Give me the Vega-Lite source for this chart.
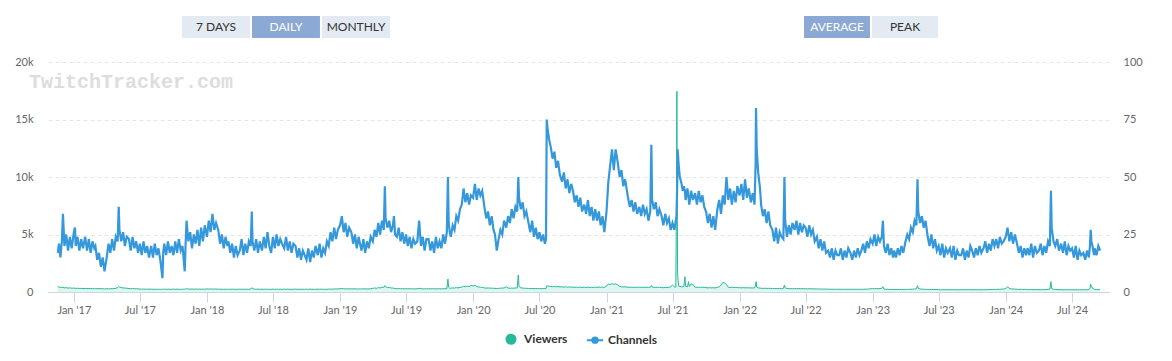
{
"$schema":"https://vega.github.io/schema/vega-lite/v6.json",
"width":1062,"height":230,
"autosize":{"type":"none"},
"padding":{"left":48,"top":62,"right":62,"bottom":69},
"background":"white",
"config":{"view":{"stroke":null},"font":"Lato"},
"datasets":{
"wm":[{"label":"TwitchTracker.com","row":"w"}],
"btn1":[{"label":"7 DAYS","sel":false,"row":"b"},{"label":"DAILY","sel":true,"row":"b"},{"label":"MONTHLY","sel":false,"row":"b"}],
"btn2":[{"label":"AVERAGE","sel":true,"row":"b"},{"label":"PEAK","sel":false,"row":"b"}],
"series":[
{"t":"2016-11-18","c":17,"v":480},{"t":"2016-11-21","c":21,"v":430},{"t":"2016-11-25","c":15,"v":390},{"t":"2016-11-29","c":22,"v":400},
{"t":"2016-12-02","c":34,"v":420},{"t":"2016-12-06","c":20,"v":360},{"t":"2016-12-11","c":25,"v":380},{"t":"2016-12-16","c":18,"v":340},{"t":"2016-12-21","c":24,"v":360},{"t":"2016-12-26","c":19,"v":330},
{"t":"2017-01-01","c":26,"v":340},{"t":"2017-01-04","c":28,"v":330},{"t":"2017-01-06","c":20,"v":310},{"t":"2017-01-11","c":24,"v":330},{"t":"2017-01-16","c":18,"v":300},{"t":"2017-01-21","c":23,"v":320},{"t":"2017-01-26","c":19,"v":300},
{"t":"2017-02-01","c":24,"v":310},{"t":"2017-02-06","c":18,"v":290},{"t":"2017-02-11","c":23,"v":310},{"t":"2017-02-16","c":17,"v":290},{"t":"2017-02-21","c":22,"v":300},{"t":"2017-02-26","c":19,"v":280},
{"t":"2017-03-01","c":20,"v":300},{"t":"2017-03-06","c":14,"v":280},{"t":"2017-03-11","c":17,"v":300},{"t":"2017-03-16","c":11,"v":280},{"t":"2017-03-21","c":15,"v":290},{"t":"2017-03-26","c":9,"v":270},
{"t":"2017-04-01","c":15,"v":290},{"t":"2017-04-06","c":21,"v":270},{"t":"2017-04-11","c":17,"v":290},{"t":"2017-04-16","c":23,"v":280},{"t":"2017-04-21","c":18,"v":300},{"t":"2017-04-26","c":24,"v":320},
{"t":"2017-05-01","c":22,"v":380},{"t":"2017-05-04","c":37,"v":480},{"t":"2017-05-06","c":27,"v":420},{"t":"2017-05-11","c":22,"v":380},{"t":"2017-05-16","c":26,"v":360},{"t":"2017-05-21","c":20,"v":340},{"t":"2017-05-26","c":24,"v":330},
{"t":"2017-06-01","c":23,"v":300},{"t":"2017-06-06","c":18,"v":280},{"t":"2017-06-11","c":24,"v":300},{"t":"2017-06-16","c":19,"v":280},{"t":"2017-06-21","c":22,"v":290},{"t":"2017-06-26","c":17,"v":270},
{"t":"2017-07-01","c":21,"v":260},{"t":"2017-07-06","c":16,"v":240},{"t":"2017-07-11","c":22,"v":260},{"t":"2017-07-16","c":17,"v":240},{"t":"2017-07-21","c":20,"v":250},{"t":"2017-07-26","c":15,"v":240},
{"t":"2017-08-01","c":20,"v":250},{"t":"2017-08-06","c":15,"v":230},{"t":"2017-08-11","c":21,"v":250},{"t":"2017-08-16","c":16,"v":230},{"t":"2017-08-21","c":19,"v":240},{"t":"2017-08-26","c":14,"v":230},
{"t":"2017-09-01","c":6,"v":240},{"t":"2017-09-03","c":17,"v":240},{"t":"2017-09-06","c":21,"v":250},{"t":"2017-09-11","c":16,"v":230},{"t":"2017-09-16","c":22,"v":250},{"t":"2017-09-21","c":17,"v":230},{"t":"2017-09-26","c":20,"v":240},
{"t":"2017-10-01","c":16,"v":250},{"t":"2017-10-06","c":22,"v":230},{"t":"2017-10-11","c":17,"v":250},{"t":"2017-10-16","c":23,"v":230},{"t":"2017-10-21","c":18,"v":240},{"t":"2017-10-26","c":20,"v":230},
{"t":"2017-11-01","c":9,"v":260},{"t":"2017-11-03","c":19,"v":250},{"t":"2017-11-06","c":31,"v":280},{"t":"2017-11-11","c":22,"v":260},{"t":"2017-11-16","c":26,"v":250},{"t":"2017-11-21","c":19,"v":260},{"t":"2017-11-26","c":25,"v":240},
{"t":"2017-12-01","c":21,"v":260},{"t":"2017-12-06","c":27,"v":240},{"t":"2017-12-11","c":20,"v":260},{"t":"2017-12-16","c":28,"v":240},{"t":"2017-12-21","c":22,"v":250},{"t":"2017-12-26","c":29,"v":240},
{"t":"2018-01-01","c":24,"v":270},{"t":"2018-01-06","c":31,"v":250},{"t":"2018-01-11","c":26,"v":270},{"t":"2018-01-16","c":34,"v":250},{"t":"2018-01-21","c":27,"v":260},{"t":"2018-01-26","c":30,"v":250},
{"t":"2018-02-01","c":27,"v":250},{"t":"2018-02-06","c":21,"v":230},{"t":"2018-02-11","c":25,"v":250},{"t":"2018-02-16","c":19,"v":230},{"t":"2018-02-21","c":24,"v":240},{"t":"2018-02-26","c":20,"v":230},
{"t":"2018-03-01","c":22,"v":250},{"t":"2018-03-06","c":17,"v":230},{"t":"2018-03-11","c":21,"v":250},{"t":"2018-03-16","c":15,"v":230},{"t":"2018-03-21","c":20,"v":240},{"t":"2018-03-26","c":16,"v":230},
{"t":"2018-04-01","c":18,"v":250},{"t":"2018-04-06","c":23,"v":230},{"t":"2018-04-11","c":16,"v":250},{"t":"2018-04-16","c":21,"v":230},{"t":"2018-04-21","c":17,"v":240},{"t":"2018-04-26","c":22,"v":230},
{"t":"2018-05-01","c":20,"v":260},{"t":"2018-05-04","c":35,"v":380},{"t":"2018-05-06","c":22,"v":280},{"t":"2018-05-11","c":18,"v":250},{"t":"2018-05-16","c":23,"v":240},{"t":"2018-05-21","c":17,"v":250},{"t":"2018-05-26","c":22,"v":230},
{"t":"2018-06-01","c":18,"v":250},{"t":"2018-06-06","c":24,"v":230},{"t":"2018-06-11","c":19,"v":250},{"t":"2018-06-16","c":26,"v":230},{"t":"2018-06-21","c":20,"v":240},{"t":"2018-06-26","c":17,"v":230},
{"t":"2018-07-01","c":24,"v":250},{"t":"2018-07-06","c":19,"v":230},{"t":"2018-07-11","c":25,"v":250},{"t":"2018-07-16","c":20,"v":230},{"t":"2018-07-21","c":23,"v":240},{"t":"2018-07-26","c":21,"v":230},
{"t":"2018-08-01","c":19,"v":250},{"t":"2018-08-06","c":24,"v":230},{"t":"2018-08-11","c":18,"v":250},{"t":"2018-08-16","c":22,"v":230},{"t":"2018-08-21","c":17,"v":240},{"t":"2018-08-26","c":21,"v":230},
{"t":"2018-09-01","c":20,"v":250},{"t":"2018-09-06","c":15,"v":230},{"t":"2018-09-11","c":19,"v":250},{"t":"2018-09-16","c":14,"v":230},{"t":"2018-09-21","c":18,"v":240},{"t":"2018-09-26","c":16,"v":230},
{"t":"2018-10-01","c":14,"v":250},{"t":"2018-10-06","c":19,"v":230},{"t":"2018-10-11","c":13,"v":250},{"t":"2018-10-16","c":18,"v":230},{"t":"2018-10-21","c":15,"v":240},{"t":"2018-10-26","c":20,"v":230},
{"t":"2018-11-01","c":16,"v":250},{"t":"2018-11-06","c":21,"v":230},{"t":"2018-11-11","c":15,"v":250},{"t":"2018-11-16","c":19,"v":230},{"t":"2018-11-21","c":17,"v":240},{"t":"2018-11-26","c":22,"v":230},
{"t":"2018-12-01","c":20,"v":260},{"t":"2018-12-06","c":26,"v":240},{"t":"2018-12-11","c":22,"v":260},{"t":"2018-12-16","c":28,"v":250},{"t":"2018-12-21","c":23,"v":270},{"t":"2018-12-26","c":27,"v":260},
{"t":"2019-01-01","c":29,"v":280},{"t":"2019-01-06","c":33,"v":300},{"t":"2019-01-11","c":26,"v":280},{"t":"2019-01-16","c":30,"v":270},{"t":"2019-01-21","c":24,"v":280},{"t":"2019-01-26","c":28,"v":260},
{"t":"2019-02-01","c":26,"v":280},{"t":"2019-02-06","c":21,"v":260},{"t":"2019-02-11","c":25,"v":280},{"t":"2019-02-16","c":19,"v":260},{"t":"2019-02-21","c":24,"v":270},{"t":"2019-02-26","c":20,"v":260},
{"t":"2019-03-01","c":18,"v":280},{"t":"2019-03-06","c":23,"v":260},{"t":"2019-03-11","c":17,"v":280},{"t":"2019-03-16","c":22,"v":260},{"t":"2019-03-21","c":19,"v":270},{"t":"2019-03-26","c":24,"v":280},
{"t":"2019-04-01","c":22,"v":320},{"t":"2019-04-06","c":27,"v":350},{"t":"2019-04-11","c":24,"v":320},{"t":"2019-04-16","c":30,"v":380},{"t":"2019-04-21","c":25,"v":350},{"t":"2019-04-26","c":31,"v":420},
{"t":"2019-05-01","c":27,"v":400},{"t":"2019-05-04","c":46,"v":560},{"t":"2019-05-06","c":32,"v":450},{"t":"2019-05-11","c":28,"v":380},{"t":"2019-05-16","c":31,"v":400},{"t":"2019-05-21","c":26,"v":350},{"t":"2019-05-26","c":29,"v":340},{"t":"2019-05-29","c":33,"v":330},
{"t":"2019-06-01","c":25,"v":300},{"t":"2019-06-06","c":24,"v":280},{"t":"2019-06-11","c":28,"v":300},{"t":"2019-06-16","c":22,"v":280},{"t":"2019-06-21","c":26,"v":290},{"t":"2019-06-26","c":21,"v":270},
{"t":"2019-07-01","c":25,"v":290},{"t":"2019-07-06","c":20,"v":270},{"t":"2019-07-11","c":24,"v":290},{"t":"2019-07-16","c":19,"v":270},{"t":"2019-07-21","c":23,"v":280},{"t":"2019-07-26","c":21,"v":270},
{"t":"2019-08-01","c":22,"v":290},{"t":"2019-08-06","c":31,"v":320},{"t":"2019-08-11","c":20,"v":290},{"t":"2019-08-16","c":24,"v":270},{"t":"2019-08-21","c":18,"v":280},{"t":"2019-08-26","c":23,"v":270},
{"t":"2019-09-01","c":23,"v":290},{"t":"2019-09-06","c":18,"v":270},{"t":"2019-09-11","c":22,"v":290},{"t":"2019-09-16","c":17,"v":270},{"t":"2019-09-21","c":24,"v":280},{"t":"2019-09-26","c":19,"v":270},
{"t":"2019-10-01","c":22,"v":290},{"t":"2019-10-06","c":19,"v":270},{"t":"2019-10-11","c":25,"v":290},{"t":"2019-10-16","c":21,"v":280},{"t":"2019-10-21","c":26,"v":300},{"t":"2019-10-24","c":50,"v":1130},{"t":"2019-10-26","c":30,"v":420},{"t":"2019-10-29","c":26,"v":330},
{"t":"2019-11-01","c":24,"v":330},{"t":"2019-11-06","c":29,"v":360},{"t":"2019-11-11","c":27,"v":340},{"t":"2019-11-16","c":33,"v":380},{"t":"2019-11-21","c":31,"v":360},{"t":"2019-11-26","c":36,"v":400},
{"t":"2019-12-01","c":38,"v":420},{"t":"2019-12-06","c":45,"v":500},{"t":"2019-12-11","c":39,"v":450},{"t":"2019-12-16","c":43,"v":520},{"t":"2019-12-21","c":38,"v":480},{"t":"2019-12-26","c":42,"v":560},
{"t":"2020-01-01","c":41,"v":520},{"t":"2020-01-06","c":47,"v":600},{"t":"2020-01-11","c":40,"v":480},{"t":"2020-01-16","c":45,"v":440},{"t":"2020-01-21","c":42,"v":420},{"t":"2020-01-26","c":44,"v":400},
{"t":"2020-02-01","c":37,"v":360},{"t":"2020-02-06","c":32,"v":330},{"t":"2020-02-11","c":35,"v":360},{"t":"2020-02-16","c":29,"v":330},{"t":"2020-02-21","c":33,"v":340},{"t":"2020-02-26","c":27,"v":320},
{"t":"2020-03-01","c":25,"v":320},{"t":"2020-03-06","c":18,"v":300},{"t":"2020-03-11","c":23,"v":320},{"t":"2020-03-16","c":27,"v":330},{"t":"2020-03-21","c":25,"v":340},{"t":"2020-03-26","c":31,"v":350},
{"t":"2020-04-01","c":28,"v":460},{"t":"2020-04-06","c":33,"v":340},{"t":"2020-04-11","c":30,"v":330},{"t":"2020-04-16","c":36,"v":340},{"t":"2020-04-21","c":32,"v":330},{"t":"2020-04-26","c":37,"v":350},
{"t":"2020-05-01","c":35,"v":360},{"t":"2020-05-04","c":50,"v":1480},{"t":"2020-05-06","c":41,"v":500},{"t":"2020-05-11","c":36,"v":360},{"t":"2020-05-16","c":39,"v":340},{"t":"2020-05-21","c":33,"v":330},{"t":"2020-05-26","c":35,"v":320},
{"t":"2020-06-01","c":30,"v":310},{"t":"2020-06-06","c":26,"v":300},{"t":"2020-06-11","c":31,"v":310},{"t":"2020-06-16","c":24,"v":290},{"t":"2020-06-21","c":28,"v":300},{"t":"2020-06-26","c":23,"v":290},
{"t":"2020-07-01","c":26,"v":300},{"t":"2020-07-06","c":22,"v":290},{"t":"2020-07-11","c":25,"v":300},{"t":"2020-07-16","c":21,"v":290},{"t":"2020-07-19","c":23,"v":300},{"t":"2020-07-21","c":75,"v":540},{"t":"2020-07-24","c":70,"v":520},{"t":"2020-07-28","c":66,"v":500},
{"t":"2020-08-01","c":63,"v":480},{"t":"2020-08-06","c":58,"v":460},{"t":"2020-08-11","c":61,"v":480},{"t":"2020-08-16","c":54,"v":460},{"t":"2020-08-21","c":57,"v":470},{"t":"2020-08-26","c":51,"v":450},
{"t":"2020-09-01","c":48,"v":450},{"t":"2020-09-06","c":52,"v":420},{"t":"2020-09-11","c":45,"v":450},{"t":"2020-09-16","c":49,"v":420},{"t":"2020-09-21","c":43,"v":440},{"t":"2020-09-26","c":47,"v":420},
{"t":"2020-10-01","c":44,"v":430},{"t":"2020-10-06","c":39,"v":400},{"t":"2020-10-11","c":42,"v":430},{"t":"2020-10-16","c":37,"v":400},{"t":"2020-10-21","c":41,"v":420},{"t":"2020-10-26","c":35,"v":400},
{"t":"2020-11-01","c":38,"v":420},{"t":"2020-11-06","c":34,"v":390},{"t":"2020-11-11","c":40,"v":420},{"t":"2020-11-16","c":33,"v":390},{"t":"2020-11-21","c":37,"v":410},{"t":"2020-11-26","c":31,"v":390},
{"t":"2020-12-01","c":36,"v":430},{"t":"2020-12-06","c":31,"v":400},{"t":"2020-12-11","c":35,"v":430},{"t":"2020-12-16","c":29,"v":400},{"t":"2020-12-21","c":33,"v":420},{"t":"2020-12-26","c":26,"v":400},
{"t":"2021-01-01","c":35,"v":520},{"t":"2021-01-06","c":48,"v":700},{"t":"2021-01-11","c":55,"v":650},{"t":"2021-01-16","c":62,"v":720},{"t":"2021-01-21","c":53,"v":680},{"t":"2021-01-26","c":62,"v":700},
{"t":"2021-02-01","c":56,"v":620},{"t":"2021-02-06","c":50,"v":480},{"t":"2021-02-11","c":53,"v":460},{"t":"2021-02-16","c":46,"v":440},{"t":"2021-02-21","c":49,"v":450},{"t":"2021-02-26","c":44,"v":430},
{"t":"2021-03-01","c":41,"v":420},{"t":"2021-03-06","c":37,"v":400},{"t":"2021-03-11","c":40,"v":420},{"t":"2021-03-16","c":35,"v":400},{"t":"2021-03-21","c":39,"v":410},{"t":"2021-03-26","c":34,"v":400},
{"t":"2021-04-01","c":37,"v":420},{"t":"2021-04-06","c":33,"v":400},{"t":"2021-04-11","c":38,"v":420},{"t":"2021-04-16","c":34,"v":400},{"t":"2021-04-21","c":36,"v":410},{"t":"2021-04-26","c":31,"v":400},
{"t":"2021-05-01","c":35,"v":420},{"t":"2021-05-04","c":64,"v":560},{"t":"2021-05-06","c":40,"v":440},{"t":"2021-05-11","c":36,"v":410},{"t":"2021-05-16","c":39,"v":400},{"t":"2021-05-21","c":33,"v":410},{"t":"2021-05-26","c":36,"v":400},
{"t":"2021-06-01","c":33,"v":400},{"t":"2021-06-06","c":29,"v":380},{"t":"2021-06-11","c":34,"v":400},{"t":"2021-06-16","c":30,"v":380},{"t":"2021-06-21","c":32,"v":420},{"t":"2021-06-26","c":27,"v":450},
{"t":"2021-07-01","c":30,"v":600},{"t":"2021-07-06","c":27,"v":450},{"t":"2021-07-10","c":31,"v":420},{"t":"2021-07-12","c":33,"v":8500},{"t":"2021-07-13","c":40,"v":17450},{"t":"2021-07-14","c":48,"v":8200},{"t":"2021-07-15","c":62,"v":1500},{"t":"2021-07-18","c":55,"v":500},{"t":"2021-07-21","c":50,"v":480},{"t":"2021-07-26","c":47,"v":460},{"t":"2021-07-29","c":44,"v":450},
{"t":"2021-08-01","c":46,"v":480},{"t":"2021-08-04","c":44,"v":1330},{"t":"2021-08-06","c":40,"v":500},{"t":"2021-08-11","c":45,"v":460},{"t":"2021-08-14","c":41,"v":900},{"t":"2021-08-16","c":38,"v":480},{"t":"2021-08-21","c":44,"v":700},{"t":"2021-08-26","c":40,"v":650},
{"t":"2021-09-01","c":43,"v":420},{"t":"2021-09-06","c":38,"v":400},{"t":"2021-09-11","c":44,"v":420},{"t":"2021-09-16","c":39,"v":400},{"t":"2021-09-21","c":42,"v":410},{"t":"2021-09-26","c":37,"v":400},
{"t":"2021-10-01","c":35,"v":380},{"t":"2021-10-06","c":30,"v":360},{"t":"2021-10-11","c":34,"v":380},{"t":"2021-10-16","c":28,"v":360},{"t":"2021-10-21","c":33,"v":370},{"t":"2021-10-26","c":27,"v":360},
{"t":"2021-11-01","c":36,"v":400},{"t":"2021-11-06","c":40,"v":450},{"t":"2021-11-11","c":34,"v":600},{"t":"2021-11-16","c":42,"v":830},{"t":"2021-11-21","c":38,"v":780},{"t":"2021-11-26","c":50,"v":650},
{"t":"2021-12-01","c":40,"v":420},{"t":"2021-12-06","c":45,"v":380},{"t":"2021-12-11","c":38,"v":420},{"t":"2021-12-16","c":44,"v":380},{"t":"2021-12-21","c":39,"v":400},{"t":"2021-12-26","c":46,"v":380},
{"t":"2022-01-01","c":42,"v":380},{"t":"2022-01-06","c":47,"v":360},{"t":"2022-01-11","c":40,"v":380},{"t":"2022-01-16","c":49,"v":360},{"t":"2022-01-21","c":41,"v":370},{"t":"2022-01-26","c":45,"v":360},
{"t":"2022-02-01","c":39,"v":360},{"t":"2022-02-06","c":43,"v":350},{"t":"2022-02-11","c":38,"v":360},{"t":"2022-02-14","c":56,"v":600},{"t":"2022-02-15","c":80,"v":900},{"t":"2022-02-17","c":62,"v":420},{"t":"2022-02-21","c":52,"v":360},{"t":"2022-02-26","c":45,"v":340},
{"t":"2022-03-01","c":38,"v":330},{"t":"2022-03-06","c":33,"v":310},{"t":"2022-03-11","c":36,"v":330},{"t":"2022-03-16","c":30,"v":310},{"t":"2022-03-21","c":35,"v":320},{"t":"2022-03-26","c":29,"v":310},
{"t":"2022-04-01","c":27,"v":310},{"t":"2022-04-06","c":22,"v":290},{"t":"2022-04-11","c":28,"v":310},{"t":"2022-04-16","c":21,"v":290},{"t":"2022-04-21","c":26,"v":300},{"t":"2022-04-26","c":24,"v":290},
{"t":"2022-05-01","c":23,"v":310},{"t":"2022-05-04","c":50,"v":600},{"t":"2022-05-06","c":31,"v":360},{"t":"2022-05-11","c":24,"v":300},{"t":"2022-05-16","c":29,"v":290},{"t":"2022-05-21","c":25,"v":300},{"t":"2022-05-26","c":30,"v":280},
{"t":"2022-06-01","c":27,"v":300},{"t":"2022-06-06","c":31,"v":280},{"t":"2022-06-11","c":25,"v":300},{"t":"2022-06-16","c":30,"v":280},{"t":"2022-06-21","c":26,"v":290},{"t":"2022-06-26","c":29,"v":280},
{"t":"2022-07-01","c":28,"v":290},{"t":"2022-07-06","c":24,"v":270},{"t":"2022-07-11","c":29,"v":290},{"t":"2022-07-16","c":25,"v":270},{"t":"2022-07-21","c":27,"v":280},{"t":"2022-07-26","c":22,"v":270},
{"t":"2022-08-01","c":24,"v":270},{"t":"2022-08-06","c":19,"v":250},{"t":"2022-08-11","c":23,"v":270},{"t":"2022-08-16","c":18,"v":250},{"t":"2022-08-21","c":22,"v":260},{"t":"2022-08-26","c":17,"v":250},
{"t":"2022-09-01","c":18,"v":250},{"t":"2022-09-06","c":15,"v":230},{"t":"2022-09-11","c":19,"v":250},{"t":"2022-09-16","c":14,"v":230},{"t":"2022-09-21","c":18,"v":240},{"t":"2022-09-26","c":16,"v":230},
{"t":"2022-10-01","c":16,"v":240},{"t":"2022-10-06","c":19,"v":230},{"t":"2022-10-11","c":14,"v":240},{"t":"2022-10-16","c":18,"v":230},{"t":"2022-10-21","c":15,"v":240},{"t":"2022-10-26","c":19,"v":230},
{"t":"2022-11-01","c":17,"v":240},{"t":"2022-11-06","c":14,"v":230},{"t":"2022-11-11","c":18,"v":240},{"t":"2022-11-16","c":15,"v":230},{"t":"2022-11-21","c":19,"v":240},{"t":"2022-11-26","c":16,"v":230},
{"t":"2022-12-01","c":18,"v":240},{"t":"2022-12-06","c":21,"v":230},{"t":"2022-12-11","c":17,"v":240},{"t":"2022-12-16","c":22,"v":250},{"t":"2022-12-21","c":19,"v":260},{"t":"2022-12-26","c":23,"v":280},
{"t":"2023-01-01","c":21,"v":300},{"t":"2023-01-06","c":25,"v":280},{"t":"2023-01-11","c":20,"v":300},{"t":"2023-01-16","c":24,"v":280},{"t":"2023-01-21","c":22,"v":300},{"t":"2023-01-26","c":24,"v":320},{"t":"2023-01-29","c":31,"v":460},
{"t":"2023-02-01","c":20,"v":250},{"t":"2023-02-06","c":17,"v":230},{"t":"2023-02-11","c":21,"v":240},{"t":"2023-02-16","c":16,"v":220},{"t":"2023-02-21","c":19,"v":230},{"t":"2023-02-26","c":15,"v":220},
{"t":"2023-03-01","c":18,"v":230},{"t":"2023-03-06","c":15,"v":210},{"t":"2023-03-11","c":19,"v":230},{"t":"2023-03-16","c":16,"v":210},{"t":"2023-03-21","c":20,"v":220},{"t":"2023-03-26","c":17,"v":210},
{"t":"2023-04-01","c":22,"v":230},{"t":"2023-04-06","c":25,"v":220},{"t":"2023-04-11","c":23,"v":240},{"t":"2023-04-16","c":28,"v":230},{"t":"2023-04-21","c":26,"v":250},{"t":"2023-04-26","c":31,"v":260},
{"t":"2023-05-01","c":29,"v":280},{"t":"2023-05-04","c":49,"v":550},{"t":"2023-05-06","c":35,"v":320},{"t":"2023-05-11","c":30,"v":260},{"t":"2023-05-16","c":33,"v":250},{"t":"2023-05-21","c":28,"v":240},{"t":"2023-05-26","c":31,"v":230},
{"t":"2023-06-01","c":24,"v":230},{"t":"2023-06-06","c":20,"v":210},{"t":"2023-06-11","c":25,"v":230},{"t":"2023-06-16","c":19,"v":210},{"t":"2023-06-21","c":23,"v":220},{"t":"2023-06-26","c":18,"v":210},
{"t":"2023-07-01","c":20,"v":210},{"t":"2023-07-06","c":16,"v":190},{"t":"2023-07-11","c":21,"v":210},{"t":"2023-07-16","c":15,"v":190},{"t":"2023-07-21","c":19,"v":200},{"t":"2023-07-26","c":17,"v":190},
{"t":"2023-08-01","c":19,"v":210},{"t":"2023-08-06","c":15,"v":190},{"t":"2023-08-11","c":20,"v":210},{"t":"2023-08-16","c":14,"v":190},{"t":"2023-08-21","c":18,"v":200},{"t":"2023-08-26","c":16,"v":190},
{"t":"2023-09-01","c":16,"v":210},{"t":"2023-09-06","c":19,"v":190},{"t":"2023-09-11","c":14,"v":210},{"t":"2023-09-16","c":18,"v":190},{"t":"2023-09-21","c":15,"v":200},{"t":"2023-09-26","c":20,"v":190},
{"t":"2023-10-01","c":18,"v":210},{"t":"2023-10-06","c":15,"v":190},{"t":"2023-10-11","c":19,"v":210},{"t":"2023-10-16","c":16,"v":190},{"t":"2023-10-21","c":20,"v":200},{"t":"2023-10-26","c":17,"v":190},
{"t":"2023-11-01","c":19,"v":210},{"t":"2023-11-06","c":22,"v":200},{"t":"2023-11-11","c":17,"v":210},{"t":"2023-11-16","c":21,"v":200},{"t":"2023-11-21","c":18,"v":220},{"t":"2023-11-26","c":23,"v":210},
{"t":"2023-12-01","c":20,"v":230},{"t":"2023-12-06","c":23,"v":220},{"t":"2023-12-11","c":19,"v":240},{"t":"2023-12-16","c":24,"v":230},{"t":"2023-12-21","c":21,"v":250},{"t":"2023-12-26","c":22,"v":260},
{"t":"2024-01-01","c":24,"v":300},{"t":"2024-01-06","c":28,"v":460},{"t":"2024-01-11","c":22,"v":300},{"t":"2024-01-16","c":26,"v":270},{"t":"2024-01-21","c":21,"v":260},{"t":"2024-01-26","c":25,"v":250},
{"t":"2024-02-01","c":21,"v":240},{"t":"2024-02-06","c":17,"v":220},{"t":"2024-02-11","c":20,"v":240},{"t":"2024-02-16","c":15,"v":220},{"t":"2024-02-21","c":19,"v":230},{"t":"2024-02-26","c":16,"v":220},
{"t":"2024-03-01","c":19,"v":220},{"t":"2024-03-06","c":16,"v":200},{"t":"2024-03-11","c":21,"v":220},{"t":"2024-03-16","c":15,"v":200},{"t":"2024-03-21","c":20,"v":210},{"t":"2024-03-26","c":17,"v":200},
{"t":"2024-04-01","c":18,"v":210},{"t":"2024-04-06","c":21,"v":200},{"t":"2024-04-11","c":16,"v":210},{"t":"2024-04-16","c":20,"v":200},{"t":"2024-04-21","c":17,"v":220},{"t":"2024-04-26","c":22,"v":230},
{"t":"2024-05-01","c":20,"v":260},{"t":"2024-05-04","c":44,"v":900},{"t":"2024-05-06","c":28,"v":320},{"t":"2024-05-11","c":22,"v":240},{"t":"2024-05-16","c":20,"v":220},{"t":"2024-05-21","c":23,"v":210},{"t":"2024-05-26","c":18,"v":200},
{"t":"2024-06-01","c":21,"v":210},{"t":"2024-06-06","c":17,"v":190},{"t":"2024-06-11","c":22,"v":210},{"t":"2024-06-16","c":16,"v":190},{"t":"2024-06-21","c":20,"v":200},{"t":"2024-06-26","c":18,"v":190},
{"t":"2024-07-01","c":19,"v":200},{"t":"2024-07-06","c":15,"v":190},{"t":"2024-07-11","c":20,"v":200},{"t":"2024-07-16","c":14,"v":190},{"t":"2024-07-21","c":18,"v":200},{"t":"2024-07-26","c":16,"v":190},
{"t":"2024-08-01","c":17,"v":200},{"t":"2024-08-06","c":14,"v":190},{"t":"2024-08-11","c":18,"v":200},{"t":"2024-08-16","c":15,"v":210},{"t":"2024-08-19","c":20,"v":300},{"t":"2024-08-21","c":27,"v":670},{"t":"2024-08-23","c":22,"v":500},{"t":"2024-08-26","c":20,"v":320},{"t":"2024-08-30","c":16,"v":250},
{"t":"2024-09-01","c":19,"v":230},{"t":"2024-09-06","c":16,"v":210},{"t":"2024-09-11","c":20,"v":220},{"t":"2024-09-16","c":18,"v":210}
]},
"layer":[
{
"data":{"name":"wm"},
"mark":{"type":"text","font":"Liberation Mono","fontSize":20,"fontWeight":"bold","color":"#dddddd","align":"left","baseline":"alphabetic"},
"encoding":{
 "x":{"field":"row","type":"nominal","scale":{"type":"point","domain":["w"],"range":[-29,-9],"padding":0},"axis":null},
 "y":{"field":"row","type":"nominal","scale":{"type":"point","domain":["w"],"range":[16,36],"padding":0},"axis":null},
 "text":{"field":"label"}}
},
{
"data":{"name":"series"},
"encoding":{"x":{"field":"t","type":"temporal",
 "scale":{"domain":[{"year":2016,"month":10,"date":22},{"year":2024,"month":10,"date":13}]},
 "axis":{"title":null,"tickCount":{"interval":"month","step":6},"format":"%b '%y","labelFont":"Lato","labelFontSize":11,"labelColor":"#666666","domainColor":"#ccd6eb","tickColor":"#ccd6eb","tickSize":10,"labelPadding":2,"grid":false,"labelFlush":false,"labelOverlap":false}}},
"layer":[
 {"layer":[
  {"mark":{"type":"area","fillOpacity":0.15},
   "encoding":{"y":{"field":"v","type":"quantitative","scale":{"domain":[0,20000],"nice":false},
     "axis":{"title":null,"values":[0,5000,10000,15000,20000],"labelExpr":"datum.value == 0 ? '0' : (datum.value/1000) + 'k'","domain":false,"ticks":false,"grid":true,"gridColor":"#e6e6e6","gridDash":[4,3],"labelPadding":15,"labelFont":"Lato","labelFontSize":11,"labelColor":"#666666"}},
    "color":{"datum":"Viewers","type":"nominal","scale":{"domain":["Viewers","Channels"],"range":["#26b99a","#3498db"]},
     "legend":{"orient":"none","legendX":457,"legendY":271,"direction":"horizontal","title":null,"padding":0,"labelFont":"Lato","labelFontSize":12,"labelFontWeight":"bold","labelColor":"#333333","symbolSize":81,"symbolStrokeWidth":2,"labelOffset":7,"columnPadding":14,
      "encode":{"symbols":{"update":{"shape":{"signal":"datum.value === 'Channels' ? 'M-1.8,0L1.8,0M-0.6,0A0.6,0.6,0,1,0,0.6,0A0.6,0.6,0,1,0,-0.6,0Z' : 'circle'"},"fill":{"signal":"scale('color', datum.value)"},"stroke":{"signal":"scale('color', datum.value)"},"fillOpacity":{"value":1},"strokeOpacity":{"value":1},"opacity":{"value":1}}}}}}}},
  {"mark":{"type":"line","color":"#26b99a","strokeWidth":1},"encoding":{"y":{"field":"v","type":"quantitative"}}}
 ]},
 {"mark":{"type":"line","strokeWidth":2.2},
  "encoding":{"y":{"field":"c","type":"quantitative","scale":{"domain":[0,100],"nice":false},
    "axis":{"title":null,"orient":"right","values":[0,25,50,75,100],"domain":false,"ticks":false,"grid":false,"labelPadding":13,"labelFont":"Lato","labelFontSize":11,"labelColor":"#666666"}},
   "color":{"datum":"Channels","type":"nominal"}}}
],
"resolve":{"scale":{"y":"independent"}}
},
{
"data":{"name":"btn1"},
"encoding":{
 "x":{"field":"label","type":"nominal","sort":null,"scale":{"type":"band","domain":["7 DAYS","DAILY","MONTHLY"],"range":[134,342],"paddingInner":0.03,"paddingOuter":0},"axis":null},
 "y":{"field":"row","type":"nominal","scale":{"type":"band","domain":["b"],"range":[-46,-24],"paddingInner":0,"paddingOuter":0},"axis":null}},
"layer":[
 {"mark":{"type":"rect"},"encoding":{"fill":{"condition":{"test":"datum.sel","value":"#8ba9d4"},"value":"#e3eaf2"}}},
 {"mark":{"type":"text","font":"Lato","fontSize":12,"baseline":"middle"},"encoding":{"text":{"field":"label"},"color":{"condition":{"test":"datum.sel","value":"#ffffff"},"value":"#333333"}}}
]
},
{
"data":{"name":"btn2"},
"encoding":{
 "x":{"field":"label","type":"nominal","sort":null,"scale":{"type":"band","domain":["AVERAGE","PEAK"],"range":[756,890],"paddingInner":0.03,"paddingOuter":0},"axis":null},
 "y":{"field":"row","type":"nominal","scale":{"type":"band","domain":["b"],"range":[-46,-24],"paddingInner":0,"paddingOuter":0},"axis":null}},
"layer":[
 {"mark":{"type":"rect"},"encoding":{"fill":{"condition":{"test":"datum.sel","value":"#8ba9d4"},"value":"#e3eaf2"}}},
 {"mark":{"type":"text","font":"Lato","fontSize":12,"baseline":"middle"},"encoding":{"text":{"field":"label"},"color":{"condition":{"test":"datum.sel","value":"#ffffff"},"value":"#333333"}}}
]
}
],
"resolve":{"scale":{"x":"independent","y":"independent"}}
}
